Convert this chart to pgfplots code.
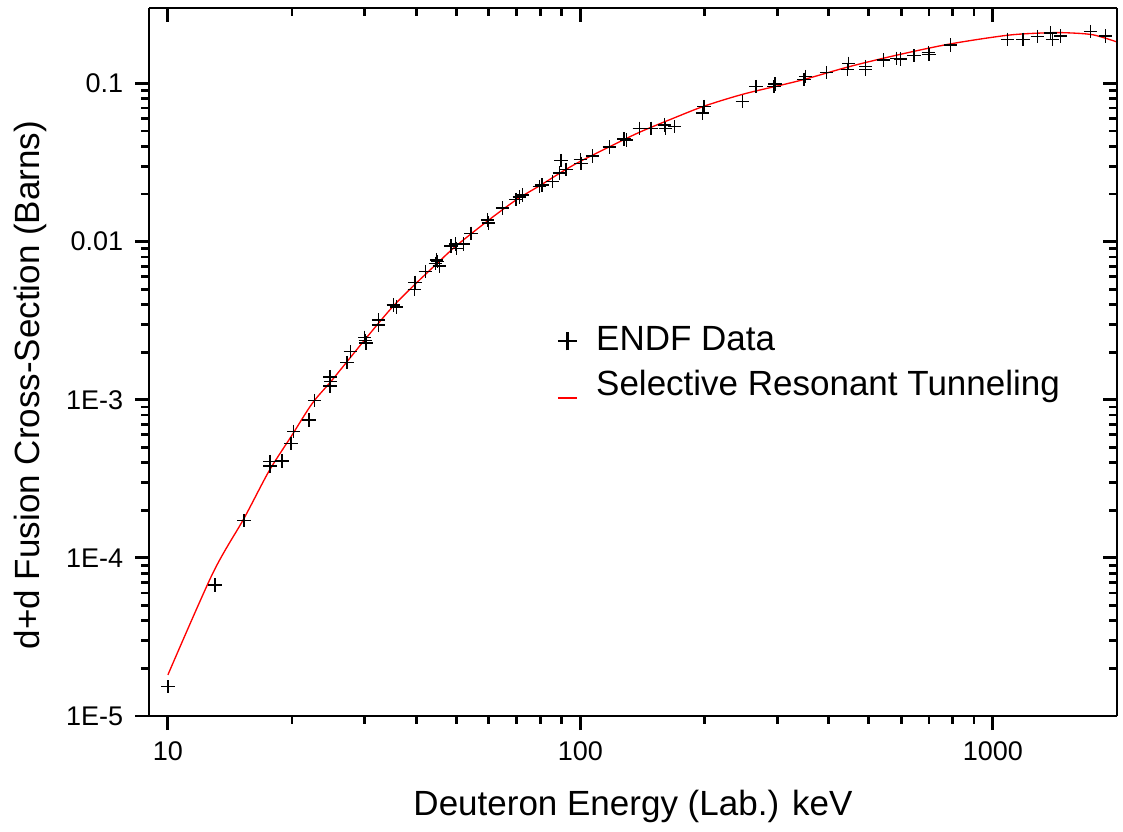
\documentclass[border=0pt]{standalone}
\usepackage{fontspec}
\setmainfont{Liberation Sans}
\usepackage{pgfplots}
\pgfplotsset{compat=1.18}

% ENDF points
\pgfplotstableread{
x y
10 1.53e-5
13 6.74e-5
15.3 1.72e-4
17.7 3.81e-4
17.7 4.06e-4
18.9 4.1e-4
19.9 5.3e-4
20.2 6.29e-4
22 7.45e-4
22.7 9.87e-4
24.7 1.39e-3
24.8 1.30e-3
24.7 1.22e-3
27.2 1.72e-3
27.7 2.01e-3
30.0 2.48e-3
30.1 2.37e-3
30.2 2.28e-3
32.4 3.2e-3
32.4 2.97e-3
35.2 3.98e-3
35.8 3.85e-3
39.7 5.53e-3
39.6 5.0e-3
42.1 6.46e-3
44.5 7.3e-3
45.1 7.48e-3
45.5 7.02e-3
44.8 7.66e-3
48.6 9.4e-3
49.8 9.67e-3
50.1 9.08e-3
52.0 9.67e-3
54.3 1.13e-2
59.6 1.37e-2
59.8 1.31e-2
64.8 1.63e-2
69.8 1.85e-2
71.1 1.91e-2
72.4 1.97e-2
79.5 2.23e-2
80.7 2.28e-2
85.7 2.4e-2
89.0 2.71e-2
92.3 2.87e-2
89.8 3.25e-2
100 3.29e-2
100.4 3.13e-2
107 3.47e-2
117.5 3.97e-2
127.7 4.45e-2
129.4 4.40e-2
139 5.21e-2
148.4 5.21e-2
159.7 5.47e-2
160.6 5.21e-2
168.9 5.33e-2
199.5 7.14e-2
197.7 6.49e-2
247 7.69e-2
266.5 9.55e-2
296.5 9.93e-2
295 9.55e-2
348.6 0.1064
351.6 0.1106
395 0.1172
446.6 0.1343
444 0.123
492 0.128
492 0.123
542.7 0.141
585 0.1445
598 0.143
644 0.1496
697.7 0.1568
700 0.1518
791 0.1754
1084 0.1905
1183 0.1905
1281 0.198
1380 0.208
1393 0.1888
1459 0.200
1726 0.213
1876 0.200
}\endfdata

% fitted curve
\pgfplotstableread{
x y
10 1.82e-5
12.85 8.0e-5
15.3 1.78e-4
17.6 3.55e-4
19.9 5.85e-4
22.4 9.5e-4
25 1.33e-3
30 2.39e-3
35 3.85e-3
40 5.46e-3
45 7.3e-3
50 9.4e-3
60 1.37e-2
70 1.84e-2
80 2.27e-2
90 2.75e-2
100 3.22e-2
120 4.08e-2
140 4.95e-2
170 6.1e-2
200 7.2e-2
250 8.6e-2
340 0.1042
450 0.128
590 0.1518
790 0.178
1090 0.202
1350 0.209
1520 0.209
1750 0.203
2000 0.183
}\srtcurve

\newcommand\tickfont{\fontsize{8.1}{9.7}\selectfont}
\newcommand\labfont{\fontsize{10.5}{12.6}\selectfont}

\begin{document}
\begin{tikzpicture}
\begin{axis}[
  scale only axis, width=290.4pt, height=212.4pt,
  xmode=log, ymode=log,
  xmin=9, xmax=2000, ymin=1e-5, ymax=0.3,
  xtick={10,100,1000}, ytick={1e-5,1e-4,1e-3,0.01,0.1},
  axis line style={line width=0.85pt},
  tick style={line width=0.85pt, black},
  major tick length=4.2pt, minor tick length=2.3pt,
  axis x line*=bottom, axis y line*=left, tick align=outside,
  xticklabels={10,100,1000},
  yticklabels={1E-5,1E-4,1E-3,0.01,0.1},
  ticklabel style={font=\tickfont},
  xlabel={Deuteron Energy (Lab.) keV},
  ylabel={d+d Fusion Cross-Section (Barns)},
  label style={font=\labfont},
  xlabel style={at={(axis description cs:0.5,0)}, anchor=base, yshift=-29.7pt},
  ylabel style={at={(axis description cs:0,0.4675)}, anchor=base, yshift=32.9pt},
  legend style={draw=none, fill=none, font=\labfont, at={(rel axis cs:0.41,0.57)},
    anchor=north west, row sep=0.4pt},
  legend cell align=left,
]
\addplot[only marks, mark=+, mark size=2pt, mark options={line width=0.4pt, black},
  legend image code/.code={\draw[line width=0.8pt] (0.1cm,-0.1cm)--(0.1cm,0.1cm) (0cm,0cm)--(0.2cm,0cm);}]
  table {\endfdata};
\addlegendentry{\hspace{3.4pt}ENDF Data}
\addplot[red, line width=0.4pt, smooth, no markers,
  legend image code/.code={\draw[red, line width=0.5pt] (0cm,-0.13cm)--(0.2cm,-0.13cm);}]
  table {\srtcurve};
\addlegendentry{\hspace{3.4pt}Selective Resonant Tunneling}
\end{axis}
\begin{axis}[
  scale only axis, width=290.4pt, height=212.4pt,
  xmode=log, ymode=log,
  xmin=9, xmax=2000, ymin=1e-5, ymax=0.3,
  xtick={10,100,1000}, ytick={1e-5,1e-4,1e-3,0.01,0.1},
  axis line style={line width=0.85pt},
  tick style={line width=0.85pt, black},
  major tick length=4.2pt, minor tick length=2.3pt,
  axis x line*=top, axis y line*=right, tick align=inside,
  xticklabels={}, yticklabels={},
]
\end{axis}
\pgfresetboundingbox
\path[use as bounding box] (-44.7pt,-34.5pt) rectangle (292.2pt,214.8pt);
\end{tikzpicture}
\end{document}
